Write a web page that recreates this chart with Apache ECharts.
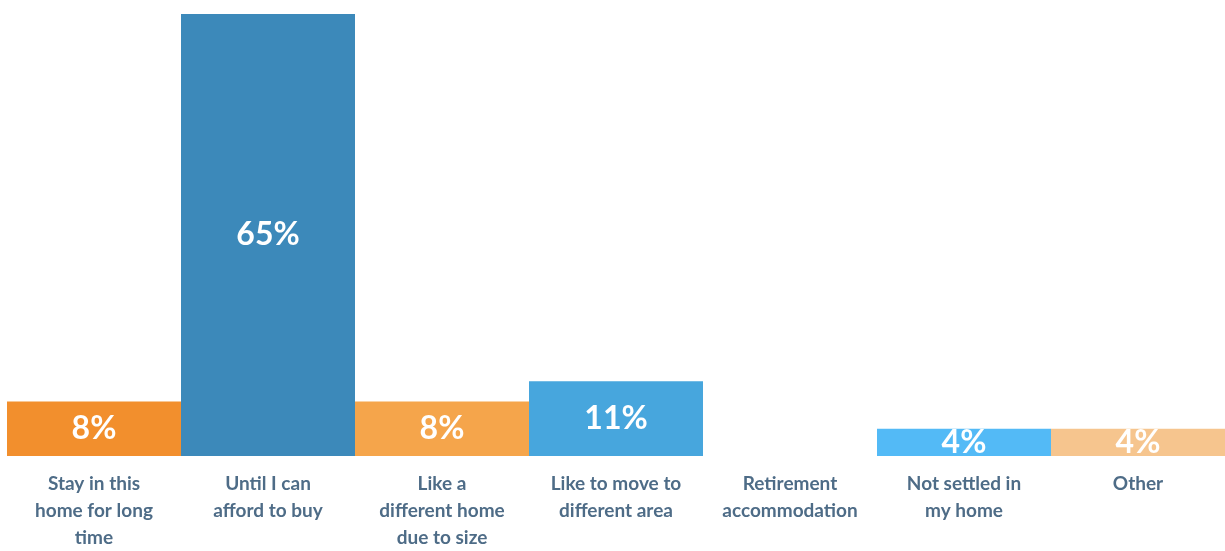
<!DOCTYPE html>
<html>
<head>
<meta charset="utf-8">
<script src="https://cdn.jsdelivr.net/npm/echarts@6/dist/echarts.min.js"></script>
<style>
  html, body { margin: 0; padding: 0; background: #ffffff; overflow: hidden; }
  #chart { width: 1225px; height: 551px; }
</style>
</head>
<body>
<div id="chart"></div>
<script>
// Reasons for renting, share of respondents (%)
const categories = [
  'Stay in this\nhome for long\ntime',
  'Until I can\nafford to buy',
  'Like a\ndifferent home\ndue to size',
  'Like to move to\ndifferent area',
  'Retirement\naccommodation',
  'Not settled in\nmy home',
  'Other'
];
const shares = [8, 65, 8, 11, 0, 4, 4];
const barColors = ['#F28F2D', '#3C89BA', '#F5A54B', '#47A6DD', '#47A6DD', '#53BAF6', '#F6C58E'];

const chart = echarts.init(document.getElementById('chart'));
chart.setOption({
  animation: false,
  grid: { left: 7, right: 0, top: 14, bottom: 91, containLabel: false },
  xAxis: {
    type: 'category',
    data: categories,
    axisLine: { show: false },
    axisTick: { show: false },
    axisLabel: {
      interval: 0,
      margin: 14,
      color: '#4E6C87',
      fontFamily: 'Lato',
      fontWeight: 'bold',
      fontSize: 19,
      lineHeight: 27,
      align: 'center'
    }
  },
  yAxis: {
    type: 'value',
    min: 0,
    max: 65,
    show: false,
    splitLine: { show: false }
  },
  series: [{
    type: 'bar',
    barWidth: '100%',
    barCategoryGap: 0,
    data: shares.map((v, i) => ({ value: v, itemStyle: { color: barColors[i] } })),
    label: {
      show: true,
      position: 'inside',
      color: '#ffffff',
      fontFamily: 'Lato',
      fontWeight: 'bold',
      fontSize: 32,
      formatter: p => p.value > 0 ? p.value + '%' : ''
    }
  }]
});
</script>
</body>
</html>
